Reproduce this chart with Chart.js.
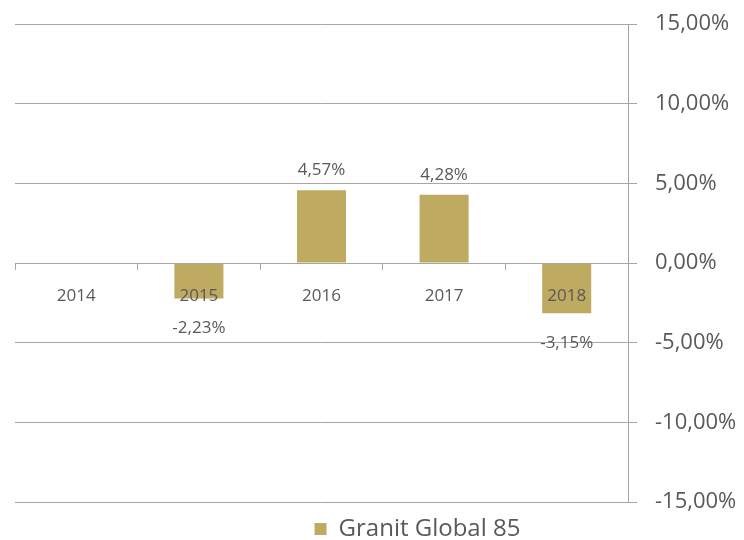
<!DOCTYPE html>
<html>
<head>
<meta charset="utf-8">
<script src="https://cdn.jsdelivr.net/npm/chart.js@4.4.1/dist/chart.umd.min.js"></script>
<style>
  html, body { margin: 0; padding: 0; background: #fff; }
  #wrap { width: 744px; height: 540px; }
</style>
</head>
<body>
<div id="wrap"><canvas id="chart"></canvas></div>
<script>
// Granit Global 85 - yearly returns
const YEARS = ['2014', '2015', '2016', '2017', '2018'];
const RETURNS = [null, -2.23, 4.57, 4.28, -3.15];
const SERIES_NAME = 'Granit Global 85';
const Y_MIN = -15, Y_MAX = 15, Y_STEP = 5;

const GOLD = '#bfaa62';
const GREY_TEXT = '#595959';
const GRID = '#a6a6a6';
const FONT = "'Open Sans', sans-serif";

function pct(v) {
    return v.toFixed(2).replace('.', ',') + '%';
}

// value labels above / below each bar
const barLabels = {
    id: 'barLabels',
    afterDatasetsDraw(chart) {
        const ctx = chart.ctx;
        const meta = chart.getDatasetMeta(0);
        ctx.save();
        ctx.font = '17px ' + FONT;
        ctx.fillStyle = GREY_TEXT;
        ctx.textAlign = 'center';
        ctx.textBaseline = 'middle';
        meta.data.forEach((bar, i) => {
            const v = RETURNS[i];
            if (v === null) return;
            const y = v >= 0 ? bar.y - 20 : bar.y + 30;
            ctx.fillText(pct(v), bar.x, y);
        });
        ctx.restore();
    }
};

// move the legend a bit to the right and down, like the original
const legendShift = {
    id: 'legendShift',
    afterLayout(chart) {
        const lg = chart.legend;
        lg.left += 38;
        lg.right += 38;
        lg.top += 11;
        lg.bottom += 11;
    }
};

let ctx = document.getElementById('chart').getContext('2d');
let chart = new Chart(ctx, {
    type: 'bar',
    data: {
        labels: YEARS,
        datasets: [{
            label: SERIES_NAME,
            data: RETURNS,
            backgroundColor: GOLD,
            borderWidth: 0,
            barPercentage: 0.4,
            categoryPercentage: 1.0
        }]
    },
    options: {
        responsive: true,
        maintainAspectRatio: false,
        animation: false,
        devicePixelRatio: 1,
        layout: { padding: { top: 24, left: 15, right: 0, bottom: 0 } },
        scales: {
            x: {
                position: { y: 0 },
                offset: true,
                grid: {
                    display: true,
                    drawOnChartArea: false,
                    drawTicks: true,
                    tickLength: 6,
                    color: GRID,
                    offset: true
                },
                border: { display: true, color: GRID, width: 1, z: 1 },
                ticks: {
                    z: 1,
                    color: GREY_TEXT,
                    font: { family: FONT, size: 17 },
                    padding: 17,
                    maxRotation: 0
                }
            },
            y: {
                position: 'right',
                min: Y_MIN,
                max: Y_MAX,
                grid: { color: GRID, tickLength: 9 },
                border: { display: true, color: GRID, width: 1 },
                ticks: {
                    stepSize: Y_STEP,
                    color: GREY_TEXT,
                    font: { family: FONT, size: 22 },
                    padding: 18,
                    callback: v => pct(v)
                },
                afterFit(scale) {
                    scale.width = 116;
                    scale.paddingTop = 0;
                }
            }
        },
        plugins: {
            legend: {
                position: 'bottom',
                labels: {
                    color: GREY_TEXT,
                    font: { family: FONT, size: 24 },
                    boxWidth: 12,
                    boxHeight: 12,
                    padding: 4
                }
            },
            tooltip: { enabled: false }
        }
    },
    plugins: [barLabels, legendShift]
});
</script>
</body>
</html>
